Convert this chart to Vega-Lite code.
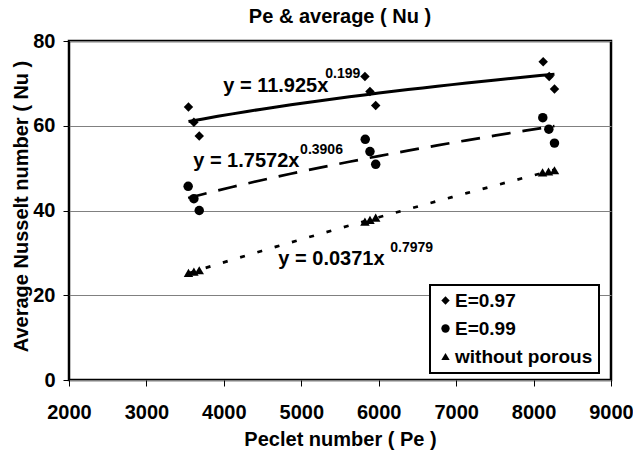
{
  "$schema": "https://vega.github.io/schema/vega-lite/v6.json",
  "width": 542,
  "height": 339,
  "autosize": {"type": "none"},
  "padding": {"left": 69, "top": 41, "right": 22, "bottom": 71},
  "background": "white",
  "config": {
    "font": "Liberation Sans",
    "view": {"stroke": "black", "strokeWidth": 2.5},
    "legend": {"strokeColor": "black", "strokeWidth": 2, "fillColor": "white"}
  },
  "title": {
    "text": "Pe & average ( Nu )",
    "fontSize": 20,
    "fontWeight": "bold",
    "color": "black",
    "anchor": "middle",
    "baseline": "alphabetic",
    "offset": 16,
    "dy": 28
  },
  "datasets": {
    "points": [
      {"series": "E=0.97", "Pe": 3543, "Nu": 64.4},
      {"series": "E=0.97", "Pe": 3613, "Nu": 60.8},
      {"series": "E=0.97", "Pe": 3682, "Nu": 57.6},
      {"series": "E=0.97", "Pe": 5822, "Nu": 71.6},
      {"series": "E=0.97", "Pe": 5887, "Nu": 68.1},
      {"series": "E=0.97", "Pe": 5961, "Nu": 64.8},
      {"series": "E=0.97", "Pe": 8124, "Nu": 75.1},
      {"series": "E=0.97", "Pe": 8202, "Nu": 71.6},
      {"series": "E=0.97", "Pe": 8270, "Nu": 68.7},
      {"series": "E=0.99", "Pe": 3539, "Nu": 45.7},
      {"series": "E=0.99", "Pe": 3613, "Nu": 42.8},
      {"series": "E=0.99", "Pe": 3682, "Nu": 40.0},
      {"series": "E=0.99", "Pe": 5826, "Nu": 56.8},
      {"series": "E=0.99", "Pe": 5887, "Nu": 53.9},
      {"series": "E=0.99", "Pe": 5961, "Nu": 50.9},
      {"series": "E=0.99", "Pe": 8119, "Nu": 61.9},
      {"series": "E=0.99", "Pe": 8197, "Nu": 59.2},
      {"series": "E=0.99", "Pe": 8270, "Nu": 55.9},
      {"series": "without porous", "Pe": 3543, "Nu": 25.3},
      {"series": "without porous", "Pe": 3613, "Nu": 25.6},
      {"series": "without porous", "Pe": 3682, "Nu": 25.9},
      {"series": "without porous", "Pe": 5822, "Nu": 37.4},
      {"series": "without porous", "Pe": 5887, "Nu": 37.8},
      {"series": "without porous", "Pe": 5961, "Nu": 38.3},
      {"series": "without porous", "Pe": 8116, "Nu": 49.0},
      {"series": "without porous", "Pe": 8193, "Nu": 49.2},
      {"series": "without porous", "Pe": 8270, "Nu": 49.5}
    ],
    "labels": [
      {"kind": "base", "text": "y = 11.925x", "Pe": 3992, "Nu": 68.0},
      {"kind": "exp", "text": "0.199", "Pe": 5310, "Nu": 71.2},
      {"kind": "base", "text": "y = 1.7572x", "Pe": 3604, "Nu": 50.3},
      {"kind": "exp", "text": "0.3906", "Pe": 4985, "Nu": 53.3},
      {"kind": "base", "text": "y = 0.0371x", "Pe": 4704, "Nu": 27.1},
      {"kind": "exp", "text": "0.7979", "Pe": 6150, "Nu": 30.2}
    ]
  },
  "layer": [
    {
      "data": {"name": "points"},
      "mark": {"type": "point", "filled": true, "opacity": 1, "color": "black", "size": 90},
      "encoding": {
        "x": {
          "field": "Pe",
          "type": "quantitative",
          "scale": {"domain": [2000, 9000], "nice": false, "zero": false},
          "axis": {
            "values": [2000, 3000, 4000, 5000, 6000, 7000, 8000, 9000],
            "format": "d",
            "title": "Peclet number ( Pe )",
            "grid": false,
            "domain": false,
            "ticks": true,
            "tickSize": 6,
            "tickColor": "black",
            "tickWidth": 1,
            "labelFontSize": 20,
            "labelFontWeight": "bold",
            "labelColor": "black",
            "labelBaseline": "alphabetic",
            "labelPadding": 32,
            "labelFlush": false,
            "labelOverlap": false,
            "titleFontSize": 20,
            "titleFontWeight": "bold",
            "titleColor": "black",
            "titleBaseline": "alphabetic",
            "titleY": 65
          }
        },
        "y": {
          "field": "Nu",
          "type": "quantitative",
          "scale": {"domain": [0, 80], "nice": false},
          "axis": {
            "values": [0, 20, 40, 60, 80],
            "title": "Average Nusselt number ( Nu )",
            "grid": true,
            "gridColor": "#808080",
            "gridWidth": 1,
            "domain": false,
            "tickSize": 6,
            "tickColor": "black",
            "tickWidth": 1,
            "labelFontSize": 20,
            "labelFontWeight": "bold",
            "labelColor": "black",
            "labelPadding": 8,
            "labelFlush": false,
            "labelOverlap": false,
            "titleFontSize": 20,
            "titleFontWeight": "bold",
            "titleColor": "black",
            "titleAngle": 270,
            "titleAlign": "center",
            "titleBaseline": "middle",
            "titleX": -48,
            "titleY": 165
          }
        },
        "shape": {
          "field": "series",
          "type": "nominal",
          "scale": {"domain": ["E=0.97", "E=0.99", "without porous"], "range": ["diamond", "circle", "triangle-up"]},
          "legend": {
            "title": null,
            "orient": "none",
            "legendX": 361,
            "legendY": 244,
            "padding": 6,
            "labelFontSize": 19,
            "labelFontWeight": "bold",
            "labelColor": "black",
            "labelOffset": 0,
            "symbolSize": 70,
            "symbolFillColor": "black",
            "symbolStrokeColor": "black",
            "symbolStrokeWidth": 0,
            "rowPadding": 8
          }
        }
      }
    },
    {
      "data": {"name": "points"},
      "transform": [
        {"filter": "datum.series === 'E=0.97'"},
        {"regression": "Nu", "on": "Pe", "method": "pow"}
      ],
      "mark": {"type": "line", "color": "black", "strokeWidth": 3},
      "encoding": {
        "x": {"field": "Pe", "type": "quantitative"},
        "y": {"field": "Nu", "type": "quantitative"}
      }
    },
    {
      "data": {"name": "points"},
      "transform": [
        {"filter": "datum.series === 'E=0.99'"},
        {"regression": "Nu", "on": "Pe", "method": "pow"}
      ],
      "mark": {"type": "line", "color": "black", "strokeWidth": 2.7, "strokeDash": [19, 12]},
      "encoding": {
        "x": {"field": "Pe", "type": "quantitative"},
        "y": {"field": "Nu", "type": "quantitative"}
      }
    },
    {
      "data": {"name": "points"},
      "transform": [
        {"filter": "datum.series === 'without porous'"},
        {"regression": "Nu", "on": "Pe", "method": "pow"}
      ],
      "mark": {"type": "line", "color": "black", "strokeWidth": 2.7, "strokeDash": [5, 13]},
      "encoding": {
        "x": {"field": "Pe", "type": "quantitative"},
        "y": {"field": "Nu", "type": "quantitative"}
      }
    },
    {
      "data": {"name": "labels"},
      "transform": [{"filter": "datum.kind === 'base'"}],
      "mark": {"type": "text", "align": "left", "baseline": "alphabetic", "fontSize": 20, "fontWeight": "bold", "color": "black"},
      "encoding": {
        "x": {"field": "Pe", "type": "quantitative"},
        "y": {"field": "Nu", "type": "quantitative"},
        "text": {"field": "text"}
      }
    },
    {
      "data": {"name": "labels"},
      "transform": [{"filter": "datum.kind === 'exp'"}],
      "mark": {"type": "text", "align": "left", "baseline": "alphabetic", "fontSize": 14, "fontWeight": "bold", "color": "black"},
      "encoding": {
        "x": {"field": "Pe", "type": "quantitative"},
        "y": {"field": "Nu", "type": "quantitative"},
        "text": {"field": "text"}
      }
    }
  ]
}
